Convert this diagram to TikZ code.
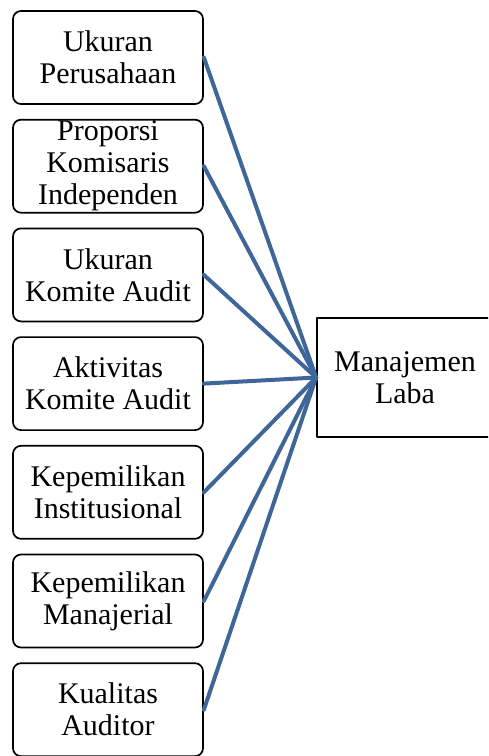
\documentclass[tikz,border=0pt]{standalone}
\usepackage{fontspec}
\setmainfont{Liberation Serif}
\usepackage{tikz}
\usetikzlibrary{positioning}
\definecolor{linkblue}{HTML}{3F6699}

\begin{document}
\begin{tikzpicture}[x=1pt,y=-1pt,line cap=round,line join=round,
    every node/.style={font=\fontsize{30}{32}\selectfont,align=center,inner sep=0pt},
    varbox/.style={draw,line width=1.7pt,rounded corners=8pt,minimum width=190pt,minimum height=93pt},
    depbox/.style={draw,line width=1.7pt,minimum width=176pt,minimum height=119pt},
    link/.style={linkblue,line width=4pt}]
    \clip (0,0) rectangle (488,756);
    \foreach \idx/\y/\lab in {1/57.5/{Ukuran\\Perusahaan},2/166.2/{Proporsi\\Komisaris\\Independen},
        3/274.9/{Ukuran\\Komite Audit},4/383.6/{Aktivitas\\Komite Audit},5/492.3/{Kepemilikan\\Institusional},
        6/601/{Kepemilikan\\Manajerial},7/709.7/{Kualitas\\Auditor}} {
        \node[varbox] (v\idx) at (108,\y) {\lab};
    }
    \node[depbox] (ml) at (405,377.5) {Manajemen\\Laba};
    \foreach \idx in {1,...,7} {
        \draw[link] (v\idx.east) -- (ml.west);
    }
\end{tikzpicture}
\end{document}
